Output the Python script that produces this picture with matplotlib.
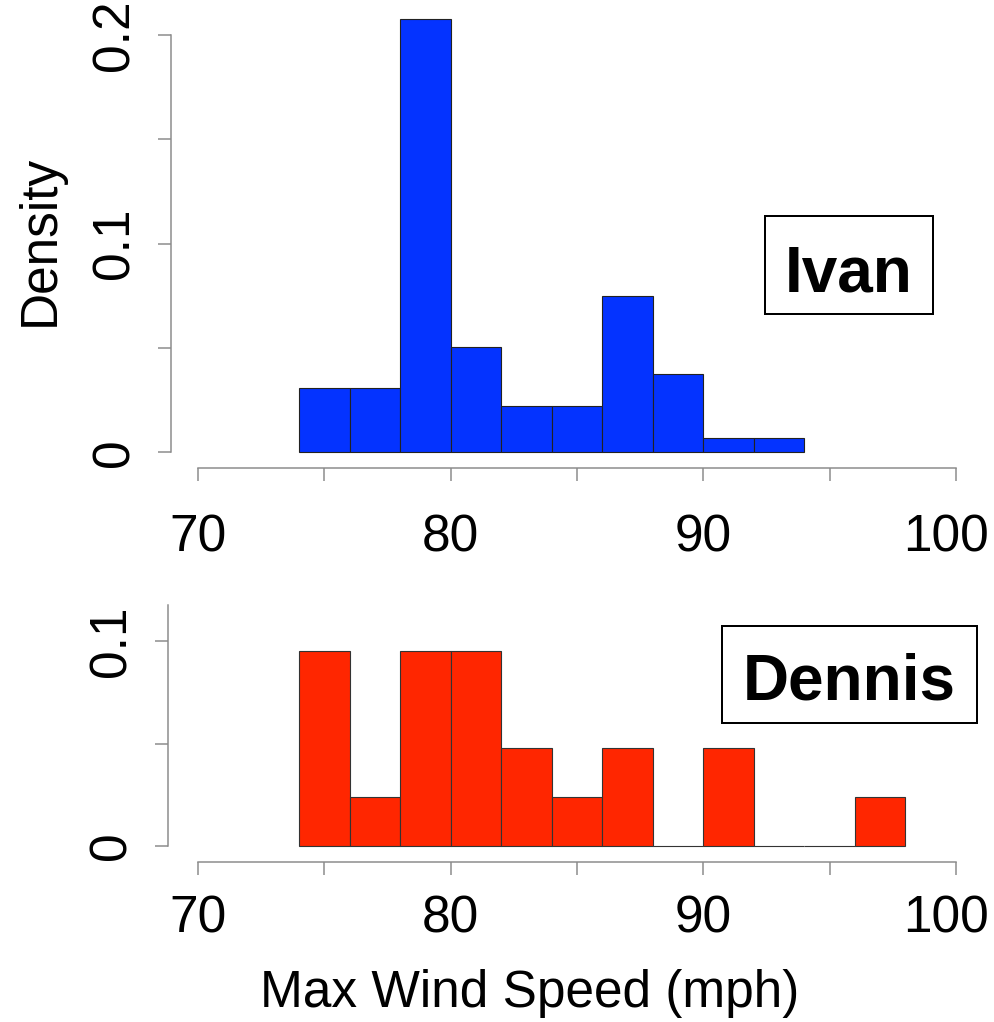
import numpy as np
import matplotlib.pyplot as plt
from matplotlib.patches import Rectangle
from matplotlib.transforms import ScaledTranslation

plt.rcParams['font.family'] = ['Liberation Sans', 'DejaVu Sans']

# data
ivan_edges = [74, 76, 78, 80, 82, 84, 86, 88, 90, 92, 94]
ivan_density = [0.031, 0.031, 0.2077, 0.0506, 0.0222, 0.0222, 0.0751, 0.0375, 0.0067, 0.0067]

dennis_edges = [74, 76, 78, 80, 82, 84, 86, 88, 90, 92, 94, 96, 98]
dennis_counts = [4, 1, 4, 4, 2, 1, 2, 0, 2, 0, 0, 1]

x_ticks = [70, 75, 80, 85, 90, 95, 100]
x_labels = ['70', '', '80', '', '90', '', '100']
ivan_yticks = [0, 0.05, 0.1, 0.15, 0.2]
ivan_ylabels = ['0', '', '0.1', '', '0.2']
dennis_yticks = [0, 0.05, 0.1]
dennis_ylabels = ['0', '', '0.1']

W, H = 994, 1022
fig = plt.figure(figsize=(W / 100, H / 100), dpi=100)
PT = 0.72  # points per pixel at 100 dpi


def px_axes(x0, x1, y_top, y_bot):
    return fig.add_axes([x0 / W, 1 - y_bot / H, (x1 - x0) / W, (y_bot - y_top) / H])


def style(ax, ymax, spine_top, yticks, ylabels, left_out, xpad):
    ax.set_xlim(70, 100)
    ax.set_ylim(0, ymax)
    ax.patch.set_visible(False)
    for s in ['top', 'right']:
        ax.spines[s].set_visible(False)
    for s in ['left', 'bottom']:
        ax.spines[s].set_color('#8a8a8a')
        ax.spines[s].set_linewidth(1.5 * PT)
    ax.spines['left'].set_position(('outward', left_out * PT))
    ax.spines['bottom'].set_position(('outward', 16 * PT))
    ax.spines['left'].set_bounds(0, spine_top)
    ax.spines['bottom'].set_bounds(70, 100)
    ax.set_xticks(x_ticks)
    ax.set_xticklabels(x_labels)
    ax.set_yticks(yticks)
    ax.set_yticklabels(ylabels, rotation=90, va='center')
    ax.tick_params(length=13 * PT, width=1.5 * PT, color='#8a8a8a', labelsize=37)
    ax.tick_params(axis='x', pad=xpad * PT)
    ax.tick_params(axis='y', pad=18 * PT)
    # last label "100" sits a bit left so it stays inside the picture
    last = ax.get_xticklabels()[-1]
    last.set_transform(last.get_transform() + ScaledTranslation(-10 / 100, 0, fig.dpi_scale_trans))


# top: Ivan
ax1 = px_axes(198, 956, 452.3 - 0.21 * 2086, 452.3)
ax1.bar(ivan_edges[:-1], ivan_density, width=np.diff(ivan_edges), align='edge',
        color='#0433FF', edgecolor='#222222', linewidth=0.8, clip_on=False)
style(ax1, 0.21, 0.2, ivan_yticks, ivan_ylabels, 27.3, 32)

# bottom: Dennis
dennis_density = np.array(dennis_counts) / (sum(dennis_counts) * 2)
ax2 = px_axes(198, 956, 845.7 - 0.12 * 2044, 845.7)
ax2.bar(dennis_edges[:-1], dennis_density, width=np.diff(dennis_edges), align='edge',
        color='#FF2600', edgecolor='#333333', linewidth=0.8, clip_on=False)
style(ax2, 0.12, 0.118, dennis_yticks, dennis_ylabels, 30.3, 20)

# labels
fig.text(40 / W, 1 - 240 / H, 'Density', rotation=90, ha='center', va='center', fontsize=37)
fig.text(530 / W, 1 - 993 / H, 'Max Wind Speed (mph)', ha='center', va='center', fontsize=37)

# name boxes
for (x0, x1, y0, y1, name, base) in [(765, 933, 216, 314, 'Ivan', 291),
                                       (722, 977, 626, 723, 'Dennis', 700)]:
    fig.patches.append(Rectangle((x0 / W, 1 - y1 / H), (x1 - x0) / W, (y1 - y0) / H,
                                 transform=fig.transFigure, fill=False,
                                 edgecolor='black', linewidth=2 * PT))
    fig.text((x0 + x1) / 2 / W, 1 - base / H, name, ha='center', va='baseline',
             fontsize=46, fontweight='bold')

fig.savefig('out.png', dpi=100)
